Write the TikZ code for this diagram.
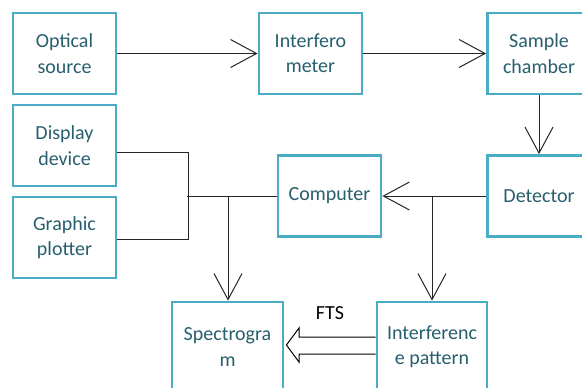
\documentclass[tikz,border=0pt]{standalone}
\usepackage{fontspec}
\setmainfont{Carlito}
\usetikzlibrary{arrows.meta,calc}
\definecolor{bord}{RGB}{75,172,198}
\definecolor{txt}{RGB}{40,95,110}
\begin{document}
\begin{tikzpicture}[x=0.75pt,y=-0.75pt,
  box/.style={draw=bord, line width=2.1pt, rectangle, minimum width=77.25pt,
    minimum height=60.75pt, inner sep=0pt, align=center, text=txt,
    font=\fontsize{15}{19}\selectfont},
  con/.style={line width=0.75pt, draw=black!85},
  arr/.style={con, -{Straight Barb[length=19.5pt,width=21pt,line width=0.75pt]}},
  lbl/.style={font=\fontsize{15}{19}\selectfont, text=black, inner sep=0pt}]
\path[use as bounding box] (0,0) rectangle (582,387);
\clip (0,0) rectangle (582,387);
\fill[white] (0,0) rectangle (582,387);
\node[box] (os) at (64.5,53.5) {Optical\\source};
\node[box] (dd) at (64.5,145.5) {Display\\device};
\node[box] (gp) at (64.5,237.5) {Graphic\\plotter};
\node[box] (ifm) at (310.5,53.5) {Interfero\\meter};
\node[box] (sc) at (539,53.5) {Sample\\chamber};
\node[box] (det) at (539,196) {Detector};
\node[box] (comp) at (329.5,196) {Computer};
\node[box, minimum width=83.25pt, minimum height=67.5pt] (spec) at (227.5,347) {Spectrogra\\m};
\node[box, minimum width=82.5pt, minimum height=67.5pt] (ip) at (432,347) {Interferenc\\e pattern};
\draw[arr] (os) -- (ifm);
\draw[arr] (ifm) -- (sc);
\draw[arr] (sc) -- (det);
\draw[arr] (det) -- (comp);
\coordinate (jd) at (432,196);
\draw[arr] (jd) -- (jd |- ip.north);
\coordinate (jl) at (187,196);
\draw[con] ($(dd.east)+(0,7)$) -| ($(gp.east)+(71,1.5)$) -- ($(gp.east)+(0,1.5)$);
\draw[con] (jl) -- (comp.west);
\coordinate (js) at (228,196);
\draw[arr] (js) -- (js |- spec.north);
\draw[line width=0.75pt, line join=miter]
  ($(ip.west)+(0,-10)$) -- (299,337) -- (299,328) -- ($(spec.east)+(2,-2)$)
  -- (299,362) -- (299,354) -- ($(ip.west)+(0,7)$);
\node[lbl] (fts) at (330,313) {FTS};
\end{tikzpicture}
\end{document}
